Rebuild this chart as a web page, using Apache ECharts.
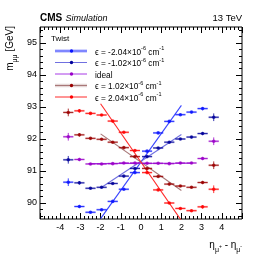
<!DOCTYPE html>
<html><head><meta charset="utf-8">
<script src="https://cdn.jsdelivr.net/npm/echarts@6/dist/echarts.min.js"></script>
<style>html,body{margin:0;padding:0;background:#fff}#c{width:266px;height:259px}</style>
</head><body><div id="c"></div>
<script>
// ---- data ----
const etaBins = [-3.6, -3.05, -2.5, -1.95, -1.4, -0.85, -0.3, 0.3, 0.85, 1.4, 1.95, 2.5, 3.05, 3.6];
const massM204 = [90.65, 89.89, 89.71, 89.79, 90.05, 90.43, 90.95, 91.62, 92.19, 92.55, 92.76, 92.84, 92.95, null];
const massM102 = [91.35, 90.63, 90.46, 90.49, 90.61, 90.84, 91.08, 91.45, 91.72, 91.90, 92.00, 92.06, 92.17, 92.68];
const massIdeal = [92.07, 91.36, 91.22, 91.22, 91.23, 91.25, 91.25, 91.24, 91.24, 91.23, 91.25, 91.25, 91.39, 91.93];
const massP102 = [92.83, 92.13, 92.02, 91.99, 91.90, 91.73, 91.45, 91.08, 90.83, 90.59, 90.53, 90.49, 90.64, 91.18];
const massP204 = [null, 92.88, 92.80, 92.75, 92.56, 92.21, 91.64, 90.95, 90.41, 90.00, 89.83, 89.76, 89.88, 90.43];
const massErr = [0.12, 0.05, 0.03, 0.03, 0.03, 0.03, 0.03, 0.03, 0.03, 0.03, 0.03, 0.03, 0.05, 0.12];
const etaHalfWidth = 0.25;
const fitRange = [-2, 2];
const fitRangeIdeal = [-2.6, 2.5];
const fitM204 = [89.51, 93.05];
const fitM102 = [90.47, 92.14];
const fitIdeal = [91.23, 91.24];
const fitP102 = [92.16, 90.39];
const fitP204 = [93.10, 89.45];
const yTickLabels = [90, 91, 92, 93, 94, 95];
const xTickLabels = [-4, -3, -2, -1, 0, 1, 2, 3, 4];
const legendTitle = 'Twist';
const legendLabels = [
  ['-2.04', '-6', '-1'],
  ['-1.02', '-6', '-1'],
  null,
  ['1.02', '-6', '-1'],
  ['2.04', '-6', '-1']
];

// ---- styling ----
const FONT = 'Liberation Sans, Arial, sans-serif';
const sets = [
  {name: 'm204', y: massM204, fit: fitM204, fx: fitRange, mc: '#0a14ff', lc: '#3a46ff', band: true},
  {name: 'm102', y: massM102, fit: fitM102, fx: fitRange, mc: '#00009a', lc: '#7070e0', band: false},
  {name: 'ideal', y: massIdeal, fit: fitIdeal, fx: fitRangeIdeal, mc: '#9a00c8', lc: '#a83ae6', band: false},
  {name: 'p102', y: massP102, fit: fitP102, fx: fitRange, mc: '#9a0000', lc: '#a87878', band: true},
  {name: 'p204', y: massP204, fit: fitP204, fx: fitRange, mc: '#ff0000', lc: '#ff2a2a', band: false}
];

const yMinor = [];
for (let v = 89.6; v < 95.45; v += 0.2) yMinor.push(Math.round(v * 10) / 10);
const xMinor = [];
for (let v = -4.8; v < 4.85; v += 0.2) xMinor.push(Math.round(v * 10) / 10);
const xMajor = [-5,-4,-3,-2,-1,0,1,2,3,4,5];

const YMIN = 89.5, YMAX = 95.5, XMIN = -5, XMAX = 5;

function axisBase(pos, isX, vals, len) {
  return {
    type: 'value', position: pos, min: isX ? XMIN : YMIN, max: isX ? XMAX : YMAX,
    axisLine: {show: false, onZero: false}, splitLine: {show: false},
    axisLabel: {show: false},
    axisTick: {show: true, inside: true, length: len, lineStyle: {color: '#000', width: 1}, customValues: vals}
  };
}

const xAxes = [
  Object.assign(axisBase('bottom', true, xMajor, 6), {
    axisLabel: {show: true, customValues: xTickLabels, color: '#000', fontFamily: FONT, fontSize: 9, margin: 4}
  }),
  axisBase('bottom', true, xMinor, 3),
  axisBase('top', true, xMajor, 6),
  axisBase('top', true, xMinor, 3)
];
const yAxes = [
  Object.assign(axisBase('left', false, yTickLabels, 6), {
    axisLabel: {show: true, customValues: yTickLabels, color: '#000', fontFamily: FONT, fontSize: 9, margin: 3}
  }),
  axisBase('left', false, yMinor, 3),
  axisBase('right', false, yTickLabels, 6),
  axisBase('right', false, yMinor, 3)
];

const series = [];
sets.forEach(s => {
  series.push({
    type: 'line', xAxisIndex: 0, yAxisIndex: 0, silent: true, animation: false,
    data: [[s.fx[0], s.fit[0]], [s.fx[1], s.fit[1]]],
    showSymbol: false, symbol: 'none', clip: true,
    lineStyle: {color: s.lc, width: 1.1}, z: 2
  });
});
sets.forEach(s => {
  const d = [];
  etaBins.forEach((x, i) => { if (s.y[i] != null) d.push([x, s.y[i], massErr[i], etaHalfWidth]); });
  series.push({
    type: 'custom', xAxisIndex: 0, yAxisIndex: 0, silent: true, animation: false, z: 3,
    data: d,
    renderItem: function (params, api) {
      const x = api.value(0), y = api.value(1), ey = api.value(2), ex = api.value(3);
      const l = api.coord([x - ex, y]), r = api.coord([x + ex, y]);
      const t = api.coord([x, y + ey]), b = api.coord([x, y - ey]);
      return {type: 'group', children: [
        {type: 'line', shape: {x1: l[0], y1: l[1], x2: r[0], y2: r[1]}, style: {stroke: s.mc, lineWidth: 2, opacity: 0.35}},
        {type: 'line', shape: {x1: l[0], y1: l[1], x2: r[0], y2: r[1]}, style: {stroke: s.mc, lineWidth: 0.8}},
        {type: 'line', shape: {x1: t[0], y1: t[1], x2: b[0], y2: b[1]}, style: {stroke: s.mc, lineWidth: 0.8}}
      ]};
    }
  });
  series.push({
    type: 'scatter', xAxisIndex: 0, yAxisIndex: 0, silent: true, animation: false, z: 4,
    data: d.map(p => [p[0], p[1]]), symbol: 'circle', symbolSize: 3.6,
    itemStyle: {color: s.mc}
  });
});

// legend as graphics
const graphic = [];
const rowY = [51, 62.5, 74, 85.5, 97];
graphic.push({type: 'text', x: 51, y: 39, style: {text: legendTitle, verticalAlign: 'middle', fontFamily: FONT, fontSize: 8, fill: '#000'}});
sets.forEach((s, i) => {
  const y = rowY[i];
  if (s.band) graphic.push({type: 'line', shape: {x1: 55, y1: y, x2: 87, y2: y}, style: {stroke: s.lc, lineWidth: 3.5, opacity: 0.3}});
  graphic.push({type: 'line', shape: {x1: 55, y1: y, x2: 87, y2: y}, style: {stroke: s.lc, lineWidth: 1}});
  graphic.push({type: 'circle', shape: {cx: 71.5, cy: y, r: 1.7}, style: {fill: s.mc}});
  const lab = legendLabels[i];
  const txt = lab ? '{t|\u03f5 = ' + lab[0] + '\u00d710}{s|' + lab[1] + '}{t|\u00a0cm}{s|' + lab[2] + '}' : '{t|ideal}';
  graphic.push({type: 'text', x: 95, y: y, style: {
    text: txt, fontFamily: FONT, verticalAlign: 'middle', align: 'left', fill: '#000',
    rich: {t: {fontSize: 8.3, fontFamily: FONT, lineHeight: 11, verticalAlign: 'bottom'}, s: {fontSize: 5.5, fontFamily: FONT, lineHeight: 11, verticalAlign: 'top'}}
  }});
});
// header
graphic.push({type: 'text', x: 40, y: 18, style: {
  text: '{b|CMS} {i|Simulation}', verticalAlign: 'middle', fill: '#000',
  rich: {b: {fontSize: 10, fontWeight: 'bold', fontFamily: FONT}, i: {fontSize: 9, fontStyle: 'italic', fontFamily: FONT}}
}});
graphic.push({type: 'text', x: 242, y: 18, style: {text: '13 TeV', align: 'right', verticalAlign: 'middle', fontSize: 9.5, fontFamily: FONT, fill: '#000'}});
// axis titles
graphic.push({type: 'text', x: 12, y: 26, rotation: Math.PI / 2, style: {
  text: '{n|m}{sub|\u03bc\u03bc}{n|\u00a0[GeV]}', align: 'right', verticalAlign: 'middle', fill: '#000',
  rich: {n: {fontSize: 10, fontFamily: FONT, lineHeight: 13, verticalAlign: 'top'}, sub: {fontSize: 7, fontFamily: FONT, lineHeight: 13, verticalAlign: 'bottom'}}
}});
graphic.push({type: 'text', x: 242, y: 247, style: {
  text: '{n|\u03b7}{sub|\u03bc}{ss|+}{n|\u00a0-\u00a0\u03b7}{sub|\u03bc}{ss|-}', align: 'right', verticalAlign: 'middle', fill: '#000',
  rich: {n: {fontSize: 10, fontFamily: FONT, lineHeight: 14, verticalAlign: 'top'}, sub: {fontSize: 7, fontFamily: FONT, lineHeight: 14, verticalAlign: 'bottom'}, ss: {fontSize: 5, fontFamily: FONT, lineHeight: 14, verticalAlign: 'middle'}}
}});

const chart = echarts.init(document.getElementById('c'), null, {renderer: 'canvas'});
chart.setOption({
  animation: false,
  backgroundColor: '#fff',
  grid: {left: 40, right: 24, top: 27, bottom: 40, show: true, borderColor: '#000', borderWidth: 1, backgroundColor: 'transparent'},
  xAxis: xAxes.map(a => Object.assign(a, {gridIndex: 0})),
  yAxis: yAxes.map(a => Object.assign(a, {gridIndex: 0})),
  series: series,
  graphic: graphic
});
</script></body></html>
